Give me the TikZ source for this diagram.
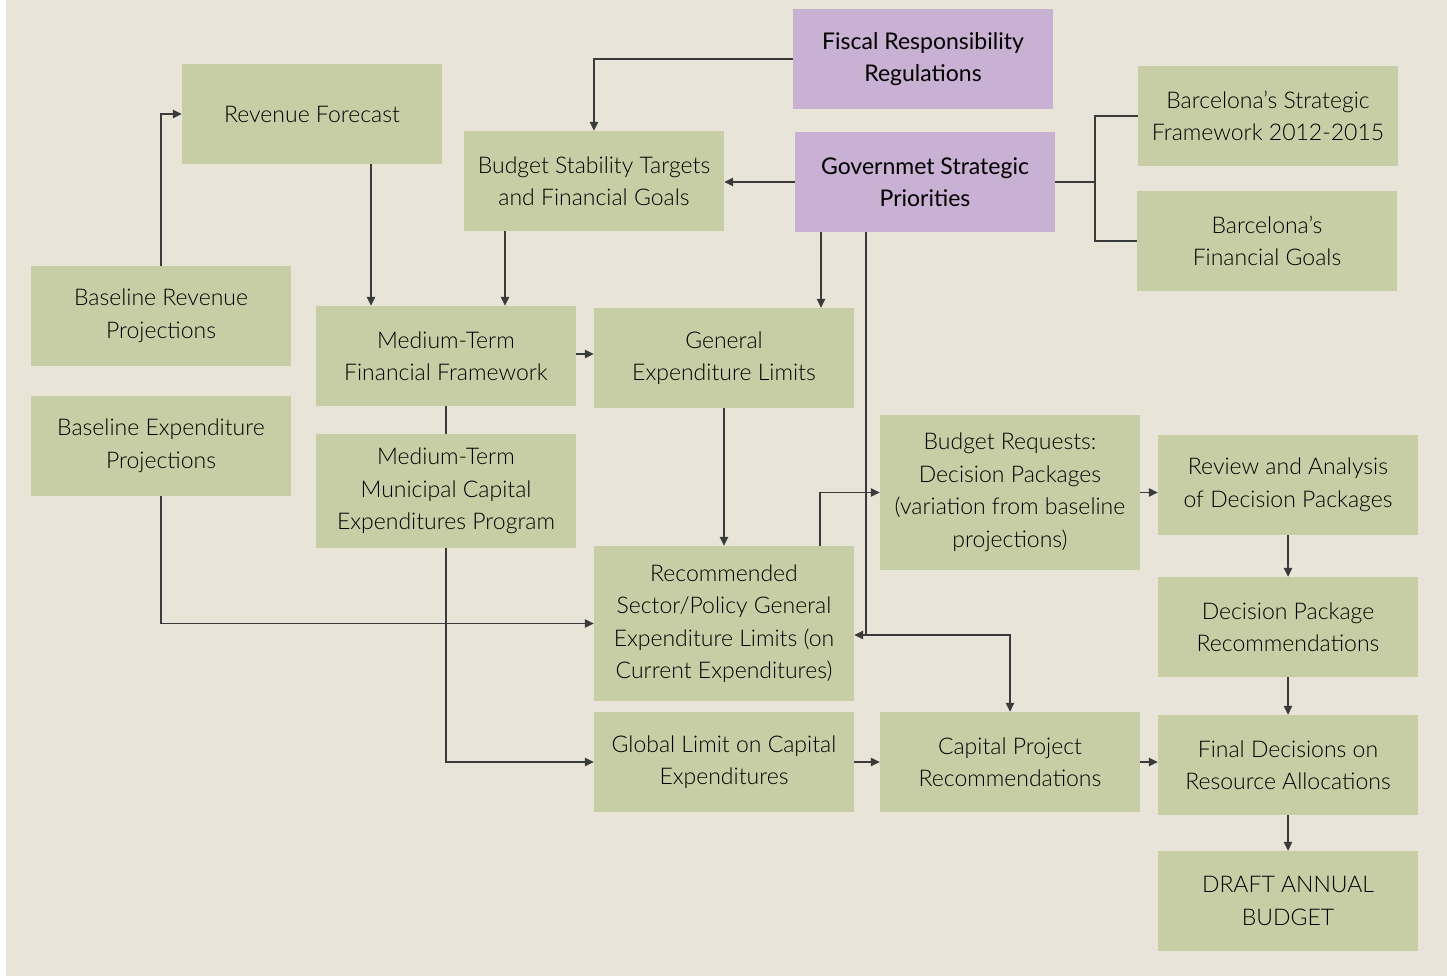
\documentclass[tikz,border=0pt]{standalone}
\usepackage{fontspec}
\setmainfont{Lato}
\newfontfamily\lightfont[Ligatures=TeX]{Lato Light}
\usetikzlibrary{arrows.meta}

\definecolor{bgcream}{HTML}{E8E5D8}
\definecolor{boxgreen}{HTML}{C7CEA5}
\definecolor{boxlilac}{HTML}{C8B1D2}
\definecolor{linegray}{HTML}{3A3A3A}

\begin{document}
\begin{tikzpicture}[x=1pt,y=-1pt,
    greenbox/.style={fill=boxgreen, minimum width=260pt, minimum height=100pt,
        inner sep=0pt, align=center, text=black,
        font=\lightfont\fontsize{23}{32.5}\selectfont},
    lilacbox/.style={greenbox, fill=boxlilac, text=black,
        font=\fontsize{23}{32.5}\selectfont},
    link/.style={draw=linegray, line width=1.3pt, -{Triangle[length=9pt,width=8.5pt]}},
    joinline/.style={draw=linegray, line width=1.3pt}]

% page
\fill [white] (0,0) rectangle (1447,976);
\fill [bgcream] (6,0) rectangle (1447,976);
\useasboundingbox (0,0) rectangle (1447,976);

% top: regulations and priorities
\node [lilacbox] (fiscal) at (923,59) {Fiscal Responsibility\\Regulations};
\node [lilacbox] (govt) at (925,182) {Governmet Strategic\\Priorities};
\node [greenbox] (bcnframe) at (1268,116) {Barcelona’s Strategic\\Framework 2012-2015};
\node [greenbox] (bcngoals) at (1267,241) {Barcelona’s\\Financial Goals};

% left column
\node [greenbox] (revfc) at (312,114) {Revenue Forecast};
\node [greenbox] (stability) at (594,181) {Budget Stability Targets\\and Financial Goals};
\node [greenbox] (baserev) at (161,316) {Baseline Revenue\\Projections};
\node [greenbox] (baseexp) at (161,446) {Baseline Expenditure\\Projections};
\node [greenbox] (mtff) at (446,356) {Medium-Term\\Financial Framework};
\node [greenbox, minimum height=114pt] (mtcap) at (446,491) {Medium-Term\\Municipal Capital\\Expenditures Program};

% middle
\node [greenbox] (genlim) at (724,358) {General\\Expenditure Limits};
\node [greenbox, minimum height=155pt] (recsector) at (724,623.5) {Recommended\\Sector/Policy General\\Expenditure Limits (on\\Current Expenditures)};
\node [greenbox] (globlim) at (724,762) {Global Limit on Capital\\Expenditures};
\node [greenbox, minimum height=155pt] (requests) at (1010,492.5) {Budget Requests:\\Decision Packages\\(variation from baseline\\projections)};
\node [greenbox] (caprec) at (1010,762) {Capital Project\\Recommendations};

% right column
\node [greenbox] (review) at (1288,485) {Review and Analysis\\of Decision Packages};
\node [greenbox] (dprec) at (1288,627) {Decision Package\\Recommendations};
\node [greenbox] (final) at (1288,765) {Final Decisions on\\Resource Allocations};
\node [greenbox] (draft) at (1288,901) {DRAFT ANNUAL\\BUDGET};

% connectors
\draw [link] (fiscal.west) -| (stability.north);
\draw [link] (govt.west) -- (govt.west -| stability.east);
\coordinate (fork) at (1095,182);
\draw [joinline] (govt.east) -- (fork);
\draw [joinline] (bcnframe.west) -| (fork) |- (bcngoals.west);

\draw [link] ([xshift=-104pt]govt.south) -- ([xshift=-104pt]govt.south |- genlim.north);
\coordinate (tap) at (866,635);
\draw [link] ([xshift=-59pt]govt.south) -- (tap) -- (tap -| recsector.east);
\draw [link] (tap) -| (caprec.north);

\draw [link] (baserev.north) |- (revfc.west);
\draw [link] ([xshift=-75pt]mtff.north |- revfc.south) -- ([xshift=-75pt]mtff.north);
\draw [link] ([xshift=-89pt]stability.south) -- ([xshift=-89pt]stability.south |- mtff.north);
\draw [link] ([yshift=2pt]mtff.east) -- ([yshift=2pt]mtff.east -| genlim.west);
\draw [joinline] (mtff.south) -- (mtcap.north);

\draw [link] (genlim.south) -- (recsector.north);
\draw [link] (baseexp.south) |- (recsector.west);
\draw [link] (mtcap.south) |- (globlim.west);
\draw [link] ([xshift=96pt]recsector.north) |- (requests.west);

\draw [link] (requests.east) -- (requests.east -| review.west);
\draw [link] (review.south) -- (dprec.north);
\draw [link] (dprec.south) -- (final.north);
\draw [link] (final.south) -- (draft.north);
\draw [link] (globlim.east) -- (caprec.west);
\draw [link] (caprec.east) -- (caprec.east -| final.west);

\end{tikzpicture}
\end{document}
